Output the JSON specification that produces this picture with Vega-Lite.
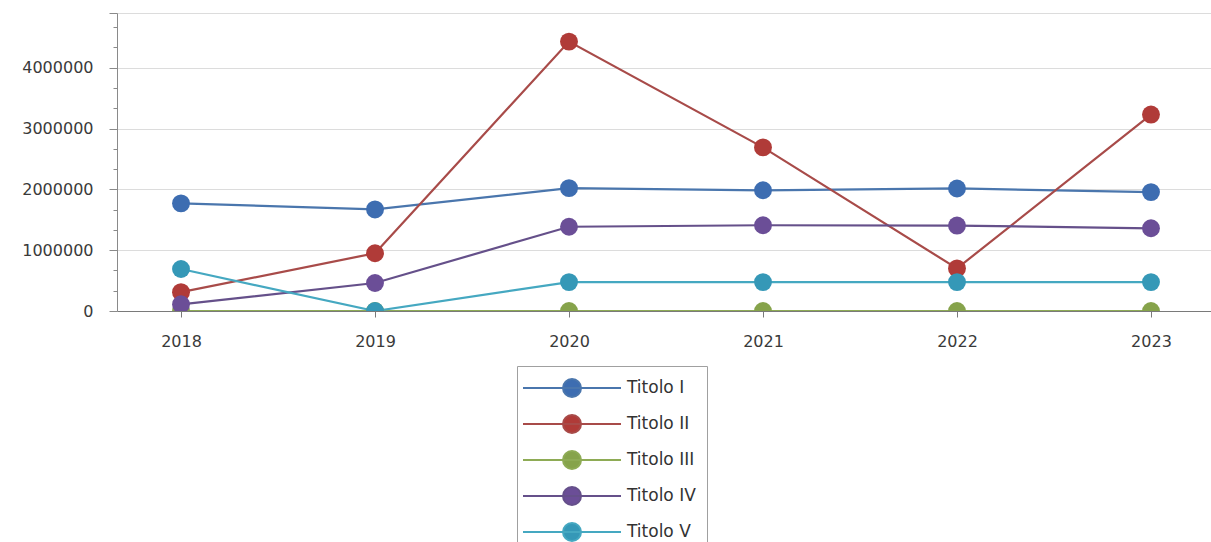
{
  "$schema": "https://vega.github.io/schema/vega-lite/v6.json",
  "width": 1098,
  "height": 298,
  "autosize": {"type": "none"},
  "padding": {"left": 117, "top": 13, "right": 0, "bottom": 231},
  "background": "white",
  "config": {
    "view": {"stroke": null},
    "font": "DejaVu Sans",
    "axis": {"labelFont": "DejaVu Sans", "labelFontSize": 16, "labelColor": "#3a3a3a", "titleFontSize": 0},
    "legend": {
      "orient": "none",
      "legendX": 400,
      "legendY": 353,
      "direction": "vertical",
      "strokeColor": "#a0a0a0",
      "fillColor": "white",
      "padding": 11,
      "symbolType": "M-4.9,0H4.9M0.9,0A0.9,0.9,0,1,1,-0.9,0A0.9,0.9,0,1,1,0.9,0Z",
      "symbolSize": 400,
      "symbolStrokeWidth": 2,
      "symbolOffset": 33,
      "labelFont": "DejaVu Sans",
      "labelFontSize": 17,
      "labelColor": "#333333",
      "labelOffset": 44,
      "rowPadding": 10,
      "title": null
    }
  },
  "data": {
    "values": [
      {"anno": "2018", "serie": "Titolo I", "valore": 1770000},
      {"anno": "2019", "serie": "Titolo I", "valore": 1670000},
      {"anno": "2020", "serie": "Titolo I", "valore": 2020000},
      {"anno": "2021", "serie": "Titolo I", "valore": 1985000},
      {"anno": "2022", "serie": "Titolo I", "valore": 2015000},
      {"anno": "2023", "serie": "Titolo I", "valore": 1955000},
      {"anno": "2018", "serie": "Titolo II", "valore": 310000},
      {"anno": "2019", "serie": "Titolo II", "valore": 950000},
      {"anno": "2020", "serie": "Titolo II", "valore": 4430000},
      {"anno": "2021", "serie": "Titolo II", "valore": 2690000},
      {"anno": "2022", "serie": "Titolo II", "valore": 700000},
      {"anno": "2023", "serie": "Titolo II", "valore": 3230000},
      {"anno": "2018", "serie": "Titolo III", "valore": 0},
      {"anno": "2019", "serie": "Titolo III", "valore": 0},
      {"anno": "2020", "serie": "Titolo III", "valore": 0},
      {"anno": "2021", "serie": "Titolo III", "valore": 0},
      {"anno": "2022", "serie": "Titolo III", "valore": 0},
      {"anno": "2023", "serie": "Titolo III", "valore": 0},
      {"anno": "2018", "serie": "Titolo IV", "valore": 110000},
      {"anno": "2019", "serie": "Titolo IV", "valore": 460000},
      {"anno": "2020", "serie": "Titolo IV", "valore": 1385000},
      {"anno": "2021", "serie": "Titolo IV", "valore": 1410000},
      {"anno": "2022", "serie": "Titolo IV", "valore": 1405000},
      {"anno": "2023", "serie": "Titolo IV", "valore": 1360000},
      {"anno": "2018", "serie": "Titolo V", "valore": 690000},
      {"anno": "2019", "serie": "Titolo V", "valore": 0},
      {"anno": "2020", "serie": "Titolo V", "valore": 475000},
      {"anno": "2021", "serie": "Titolo V", "valore": 475000},
      {"anno": "2022", "serie": "Titolo V", "valore": 475000},
      {"anno": "2023", "serie": "Titolo V", "valore": 475000}
    ]
  },
  "resolve": {"axis": {"y": "independent"}, "scale": {"y": "shared"}},
  "layer": [
    {
      "mark": {"type": "line", "strokeWidth": 2.2, "clip": true},
      "encoding": {
        "x": {
          "field": "anno", "type": "ordinal",
          "scale": {"type": "point", "padding": 0.33},
          "axis": {"title": null, "labelAngle": 0, "grid": false, "domainColor": "#7a7a7a", "tickColor": "#7a7a7a", "tickSize": 6, "labelPadding": 16}
        },
        "y": {
          "field": "valore", "type": "quantitative",
          "scale": {"domain": [0, 4900000], "nice": false},
          "axis": {
            "title": null,
            "values": [0, 1000000, 2000000, 3000000, 4000000, 4900000],
            "labelExpr": "datum.value > 4500000 ? '' : datum.value",
            "grid": true, "gridColor": "#dcdcdc", "gridWidth": 1,
            "domainColor": "#8a8a8a", "tickColor": "#8a8a8a", "tickSize": 8, "labelPadding": 16
          }
        },
        "stroke": {
          "field": "serie", "type": "nominal",
          "scale": {"domain": ["Titolo I", "Titolo II", "Titolo III", "Titolo IV", "Titolo V"], "range": ["#4a76ad", "#a84b49", "#8eab55", "#65508a", "#45a8c1"]}
        },
        "order": {"field": "anno"}
      }
    },
    {
      "mark": {"type": "circle", "size": 320, "opacity": 1, "clip": true},
      "encoding": {
        "x": {"field": "anno", "type": "ordinal"},
        "y": {
          "field": "valore", "type": "quantitative",
          "axis": {
            "orient": "left", "title": null, "labels": false, "grid": false, "domain": false,
            "values": [333333, 666667, 1333333, 1666667, 2333333, 2666667, 3333333, 3666667, 4333333, 4666667],
            "tickColor": "#8a8a8a", "tickSize": 4
          }
        },
        "fill": {
          "field": "serie", "type": "nominal",
          "scale": {"domain": ["Titolo I", "Titolo II", "Titolo III", "Titolo IV", "Titolo V"], "range": ["#3d6db1", "#b03b38", "#86a34b", "#6b4e97", "#3598b7"]}
        }
      }
    }
  ]
}
